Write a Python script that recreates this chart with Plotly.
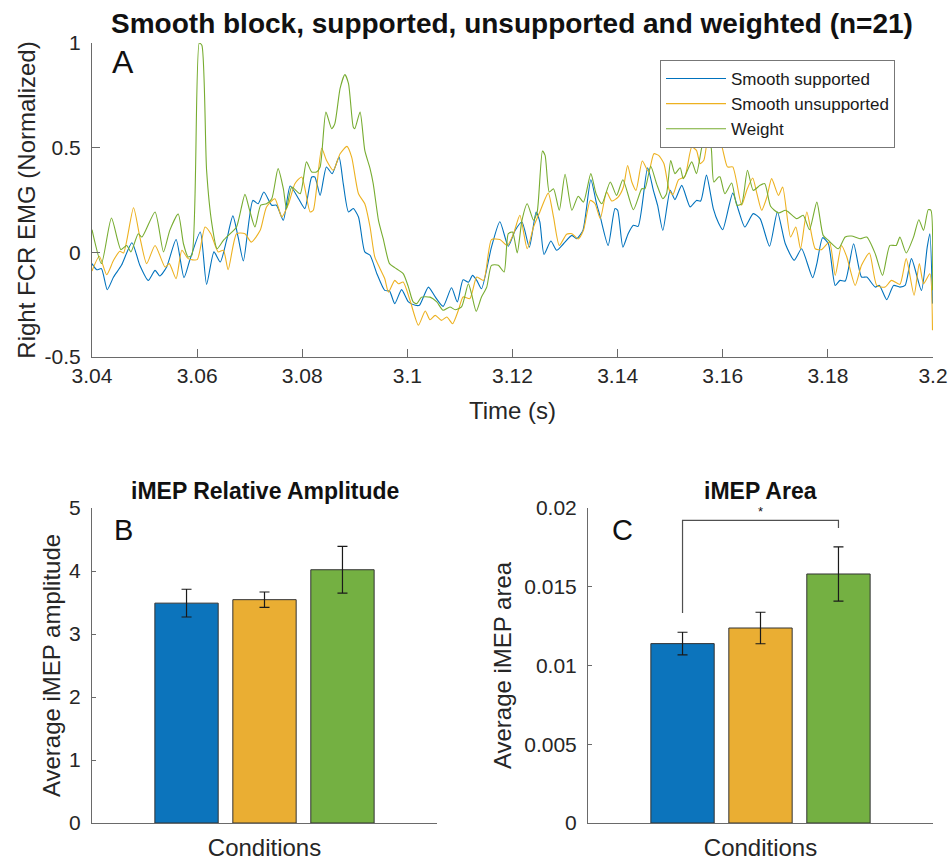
import plotly.graph_objects as go

# ---------------- Panel A data (time in s, normalized EMG) ----------------
t_supported = [3.0400, 3.0409, 3.0418, 3.0429, 3.0441, 3.0456, 3.0476, 3.0491, 3.0507, 3.0520,
               3.0529, 3.0542, 3.0560, 3.0575, 3.0586, 3.0606, 3.0618, 3.0632, 3.0644, 3.0656,
               3.0668, 3.0678, 3.0688, 3.0706, 3.0716, 3.0727, 3.0742, 3.0751, 3.0764, 3.0777,
               3.0793,
               3.0805, 3.0818, 3.0824, 3.0834, 3.0846, 3.0857, 3.0870, 3.0878, 3.0888, 3.0897,
               3.0907, 3.0919, 3.0929, 3.0942, 3.0957, 3.0966, 3.0976, 3.0989, 3.1002, 3.1015,
               3.1023, 3.1040, 3.1053, 3.1068, 3.1084, 3.1095, 3.1106, 3.1116, 3.1124, 3.1132,
               3.1141, 3.1160, 3.1176, 3.1192,
               3.1205, 3.1218, 3.1232, 3.1245, 3.1252, 3.1260, 3.1273, 3.1284, 3.1297, 3.1313,
               3.1322, 3.1334, 3.1349, 3.1360, 3.1367, 3.1382, 3.1395, 3.1400, 3.1410, 3.1420,
               3.1430, 3.1439, 3.1457, 3.1468, 3.1476, 3.1486, 3.1500, 3.1509, 3.1522, 3.1538,
               3.1550, 3.1558, 3.1569, 3.1582, 3.1592,
               3.1600, 3.1619, 3.1630, 3.1642, 3.1658, 3.1671, 3.1689, 3.1704, 3.1719, 3.1736,
               3.1750, 3.1771, 3.1779, 3.1790, 3.1801, 3.1814, 3.1823, 3.1833, 3.1849, 3.1864,
               3.1874, 3.1890, 3.1898, 3.1912, 3.1925, 3.1937, 3.1947, 3.1959, 3.1978, 3.1989,
               3.1994, 3.1999]
v_supported = [-0.054, -0.083, -0.078, -0.178, -0.118, -0.062, 0.046, -0.062, -0.134, -0.086,
               -0.113, -0.070, 0.061, -0.121, -0.038, 0.097, -0.153, 0.002, -0.046, 0.057,
               0.174, 0.073, -0.041, 0.248, 0.232, 0.288, 0.225, 0.225, 0.153, 0.317,
               0.256,
               0.209, 0.360, 0.360, 0.272, 0.408, 0.376, 0.455, 0.328, 0.193, 0.209,
               0.169, 0.002, -0.014, -0.102, -0.182, -0.185, -0.245, -0.178, -0.237, -0.253,
               -0.253, -0.166, -0.213, -0.258, -0.169, -0.237, -0.131, -0.143, -0.110, -0.134,
               -0.174, 0.025, 0.146, 0.029,
               0.105, 0.145, 0.025, 0.193, 0.145, -0.010, 0.054, 0.010, 0.041, 0.081,
               0.065, 0.105, 0.347, 0.232, 0.169, 0.033, 0.209, 0.201, 0.025, 0.089,
               0.129, 0.124, 0.404, 0.296, 0.225, 0.105, 0.296, 0.252, 0.320, 0.217,
               0.248, 0.245, 0.369, 0.209, 0.140,
               0.108, 0.283, 0.201, 0.121, 0.185, 0.161, 0.029, 0.193, 0.041, -0.038,
               0.017, -0.121, -0.054, 0.070, 0.041, -0.158, -0.134, -0.137, 0.041, -0.118,
               -0.118, -0.166, -0.158, -0.226, -0.158, -0.166, -0.158, -0.030, -0.182, 0.025,
               0.089, -0.245]

t_unsupported = [3.0400, 3.0414, 3.0428, 3.0441, 3.0453, 3.0460, 3.0479, 3.0491, 3.0504, 3.0520,
                 3.0539, 3.0547, 3.0560, 3.0571, 3.0583, 3.0600, 3.0615, 3.0626, 3.0640, 3.0650,
                 3.0659, 3.0675, 3.0691, 3.0703, 3.0720, 3.0732, 3.0748, 3.0761, 3.0774, 3.0786,
                 3.0799,
                 3.0815, 3.0821, 3.0837, 3.0846, 3.0859, 3.0872, 3.0885, 3.0894, 3.0907, 3.0919,
                 3.0929, 3.0938, 3.0948, 3.0957, 3.0964, 3.0976, 3.0983, 3.0992, 3.1005, 3.1021,
                 3.1034, 3.1043, 3.1053, 3.1065, 3.1075, 3.1086, 3.1097, 3.1106, 3.1119, 3.1132,
                 3.1145, 3.1160, 3.1176, 3.1190,
                 3.1202, 3.1214, 3.1228, 3.1240, 3.1252, 3.1268, 3.1278, 3.1289, 3.1303, 3.1313,
                 3.1325, 3.1335, 3.1348, 3.1357, 3.1367, 3.1379, 3.1389, 3.1401, 3.1411, 3.1419,
                 3.1427, 3.1435, 3.1447, 3.1459, 3.1469, 3.1478, 3.1488, 3.1498, 3.1505, 3.1516,
                 3.1528, 3.1541, 3.1550, 3.1557, 3.1564, 3.1575, 3.1583, 3.1595,
                 3.1609, 3.1619, 3.1636, 3.1646, 3.1657, 3.1665, 3.1674, 3.1684, 3.1693, 3.1706,
                 3.1714, 3.1729, 3.1739, 3.1748, 3.1760, 3.1776, 3.1788, 3.1803, 3.1814, 3.1826,
                 3.1836, 3.1852, 3.1864, 3.1879, 3.1893, 3.1909, 3.1921, 3.1937, 3.1949, 3.1964,
                 3.1974, 3.1982, 3.1994, 3.1999]
v_unsupported = [-0.089, -0.019, -0.107, -0.038, 0.005, -0.003, 0.213, 0.073, -0.054, 0.033,
                 -0.070, -0.054, -0.126, 0.010, -0.030, -0.035, 0.121, 0.089, 0.002, 0.010,
                 -0.083, 0.089, 0.089, 0.049, 0.105, 0.217, 0.256, 0.169, 0.232, 0.328,
                 0.360,
                 0.193, 0.201, 0.497, 0.440, 0.392, 0.471, 0.506, 0.455, 0.280, 0.232,
                 0.121, -0.022, -0.078, -0.126, -0.190, -0.134, -0.150, -0.142, -0.229, -0.348,
                 -0.280, -0.322, -0.301, -0.325, -0.309, -0.341, -0.277, -0.213, -0.221, -0.118,
                 -0.134, 0.061, 0.061, 0.033,
                 0.089, 0.177, 0.017, 0.121, 0.193, 0.283, 0.169, 0.033, 0.086, 0.089,
                 0.064, 0.105, 0.248, 0.232, 0.161, 0.288, 0.245, 0.264, 0.312, 0.415,
                 0.336, 0.296, 0.436, 0.384, 0.471, 0.463, 0.424, 0.299, 0.275, 0.347,
                 0.363, 0.503, 0.487, 0.424, 0.440, 0.600, 0.520, 0.527,
                 0.408, 0.408, 0.225, 0.299, 0.355, 0.280, 0.201, 0.264, 0.352, 0.272,
                 0.312, 0.073, 0.121, 0.017, 0.193, 0.017, 0.013, 0.049, -0.110, 0.033,
                 -0.022, -0.158, -0.062, -0.003, -0.158, -0.166, -0.134, -0.153, -0.030, -0.205,
                 -0.054, -0.150, -0.102, -0.372]

t_weight = [3.0400, 3.0418, 3.0437, 3.0455, 3.0466, 3.0474, 3.0488, 3.0495, 3.0520, 3.0536,
            3.0548, 3.0564, 3.0574, 3.0583, 3.0590, 3.0604, 3.0609, 3.0618, 3.0628, 3.0638,
            3.0650, 3.0663, 3.0675, 3.0691, 3.0699, 3.0710, 3.0721, 3.0732, 3.0742, 3.0754,
            3.0764, 3.0770, 3.0780,
            3.0796, 3.0808, 3.0818, 3.0827, 3.0834, 3.0845, 3.0856, 3.0862, 3.0872, 3.0881,
            3.0888, 3.0897, 3.0900, 3.0910, 3.0919, 3.0929, 3.0935, 3.0945, 3.0954, 3.0966,
            3.0976, 3.0992, 3.1002, 3.1011, 3.1018, 3.1027, 3.1043, 3.1056, 3.1068, 3.1081,
            3.1091, 3.1103, 3.1116, 3.1122, 3.1131, 3.1141, 3.1151, 3.1160, 3.1173, 3.1184,
            3.1192,
            3.1200, 3.1209, 3.1218, 3.1228, 3.1240, 3.1247, 3.1257, 3.1262, 3.1270, 3.1278,
            3.1289, 3.1300, 3.1313, 3.1325, 3.1335, 3.1349, 3.1359, 3.1370, 3.1386, 3.1398,
            3.1410, 3.1430, 3.1446, 3.1452, 3.1463, 3.1474, 3.1486, 3.1493, 3.1501, 3.1509,
            3.1519, 3.1525, 3.1541, 3.1550, 3.1560, 3.1569, 3.1578, 3.1583, 3.1592,
            3.1595, 3.1604, 3.1617, 3.1627, 3.1636, 3.1647, 3.1658, 3.1671, 3.1680, 3.1691,
            3.1706, 3.1719, 3.1725, 3.1741, 3.1753, 3.1765, 3.1779, 3.1791, 3.1801, 3.1820,
            3.1833, 3.1845, 3.1861, 3.1874, 3.1890, 3.1904, 3.1918, 3.1930, 3.1937, 3.1949,
            3.1963, 3.1973, 3.1982, 3.1991, 3.1996, 3.1999]
v_weight = [0.108, -0.054, 0.164, 0.013, 0.033, 0.002, 0.089, 0.073, 0.193, 0.002,
            0.105, 0.183, 0.041, -0.022, -0.014, 1.000, 0.989, 0.392, 0.137, 0.017,
            0.057, 0.089, 0.121, 0.277, 0.209, 0.121, 0.225, 0.232, 0.256, 0.400,
            0.304, 0.209, 0.312,
            0.280, 0.432, 0.384, 0.384, 0.408, 0.670, 0.591, 0.615, 0.783, 0.849,
            0.806, 0.599, 0.591, 0.670, 0.487, 0.400, 0.328, 0.153, 0.065, -0.054,
            -0.073, -0.102, -0.166, -0.237, -0.245, -0.214, -0.214, -0.237, -0.277, -0.261,
            -0.274, -0.261, -0.150, -0.197, -0.282, -0.213, -0.166, -0.062, -0.062, -0.094,
            0.089,
            0.097, -0.003, 0.153, 0.232, 0.153, 0.193, 0.484, 0.463, 0.288, 0.304,
            0.201, 0.373, 0.201, 0.268, 0.240, 0.376, 0.280, 0.232, 0.336, 0.272,
            0.347, 0.204, 0.304, 0.304, 0.411, 0.328, 0.256, 0.280, 0.439, 0.376,
            0.404, 0.352, 0.432, 0.376, 0.500, 0.580, 0.500, 0.336, 0.360,
            0.360, 0.280, 0.331, 0.225, 0.232, 0.392, 0.296, 0.320, 0.328, 0.220,
            0.188, 0.201, 0.193, 0.161, 0.177, 0.108, 0.240, 0.081, 0.057, 0.017,
            0.073, 0.078, 0.065, 0.073, -0.006, -0.110, 0.033, 0.033, 0.073, -0.003,
            0.073, 0.156, 0.105, 0.204, 0.201, -0.181]

series_names = ["Smooth supported", "Smooth unsupported", "Weight"]
colors = ["#0072BD", "#EDB120", "#77AC30"]
bar_colors = ["#0C74BC", "#EAAE33", "#74B042"]

# ---------------- Panel B / C data ----------------
amp_mean = [3.49, 3.545, 4.02]
amp_err = [0.22, 0.122, 0.372]
area_mean = [0.01139, 0.01238, 0.01581]
area_err = [0.00072, 0.00100, 0.00172]
sig_bar_level = 0.01922
sig_left_end = 0.01333
sig_right_end = 0.01873
sig_star_y = 0.01975

x_ticks_a = [3.04, 3.06, 3.08, 3.10, 3.12, 3.14, 3.16, 3.18, 3.20]
x_tick_text_a = ["3.04", "3.06", "3.08", "3.1", "3.12", "3.14", "3.16", "3.18", "3.2"]
y_ticks_a = [-0.5, 0, 0.5, 1]
y_tick_text_a = ["-0.5", "0", "0.5", "1"]
y_ticks_c = [0, 0.005, 0.01, 0.015, 0.02]
y_tick_text_c = ["0", "0.005", "0.01", "0.015", "0.02"]

W, H = 948, 861
FONT = "Liberation Sans, Arial, Helvetica, sans-serif"
TXT = "#262626"
AX = "#6a6a6a"


def px_x(p):
    return p / W


def px_y(p):
    return 1 - p / H


fig = go.Figure()

for t, v, name, c in zip([t_supported, t_unsupported, t_weight],
                         [v_supported, v_unsupported, v_weight], series_names, colors):
    fig.add_trace(go.Scatter(x=t, y=v, mode="lines", name=name,
                             line=dict(color=c, width=1.1, shape="spline", smoothing=0.6),
                             xaxis="x", yaxis="y"))

bargap = 0.322
bargroupgap = 0.188
offset_step = (1 - bargap) / 3

for i in range(3):
    fig.add_trace(go.Bar(x=["Conditions"], y=[amp_mean[i]], name=series_names[i],
                         marker=dict(color=bar_colors[i], line=dict(color="#333333", width=1)),
                         error_y=dict(type="data", array=[amp_err[i]], color="#1a1a1a",
                                      thickness=1.2, width=5),
                         showlegend=False, xaxis="x2", yaxis="y2", offsetgroup=str(i)))
    fig.add_trace(go.Bar(x=["Conditions"], y=[area_mean[i]], name=series_names[i],
                         marker=dict(color=bar_colors[i], line=dict(color="#333333", width=1)),
                         error_y=dict(type="data", array=[area_err[i]], color="#1a1a1a",
                                      thickness=1.2, width=5),
                         showlegend=False, xaxis="x3", yaxis="y3", offsetgroup=str(i)))

# significance bracket between first and third bar in panel C
left_x = -offset_step
right_x = offset_step
fig.add_shape(type="path", xref="x3", yref="y3",
              path=f"M {left_x},{sig_left_end} L {left_x},{sig_bar_level} "
                   f"L {right_x},{sig_bar_level} L {right_x},{sig_right_end}",
              line=dict(color="#505050", width=1.2))

axis_common = dict(showline=True, linecolor=AX, linewidth=1, mirror=False, showgrid=False,
                   zeroline=False, tickcolor=AX, tickwidth=1, automargin=False,
                   tickfont=dict(family=FONT, size=21, color=TXT))
title_font = dict(family=FONT, size=24, color=TXT)

fig.update_layout(
    width=W, height=H,
    margin=dict(l=0, r=0, t=0, b=0, autoexpand=False),
    paper_bgcolor="white", plot_bgcolor="white",
    font=dict(family=FONT, color=TXT),
    barmode="group", bargap=bargap, bargroupgap=bargroupgap,
    title=dict(text="Smooth block, supported, unsupported and weighted (n=21)",
               font=dict(family=FONT, size=28, color="#111111", weight="bold"),
               x=px_x(512), xanchor="center", y=px_y(23), yanchor="middle",
               automargin=False),
    xaxis=dict(domain=[px_x(92), px_x(933)], anchor="y", range=[3.04, 3.2],
               tickvals=x_ticks_a, ticktext=x_tick_text_a, ticks="inside", ticklen=8,
               title=dict(text="Time (s)", font=title_font, standoff=15), **axis_common),
    yaxis=dict(domain=[px_y(357), px_y(43)], anchor="x", range=[-0.5, 1],
               tickvals=y_ticks_a, ticktext=y_tick_text_a, ticks="inside", ticklen=8,
               ticklabelstandoff=6,
               title=dict(text="Right FCR EMG (Normalized)", font=title_font, standoff=2),
               **axis_common),
    xaxis2=dict(domain=[px_x(92), px_x(437)], anchor="y2", range=[-0.5, 0.5],
                type="category", showticklabels=False, ticks="",
                title=dict(text="Conditions", font=title_font, standoff=16),
                **axis_common),
    yaxis2=dict(domain=[px_y(823), px_y(508)], anchor="x2", range=[0, 5], dtick=1,
                ticks="inside", ticklen=4, ticklabelstandoff=6,
                title=dict(text="Average iMEP amplitude", font=title_font, standoff=1),
                **axis_common),
    xaxis3=dict(domain=[px_x(588), px_x(933)], anchor="y3", range=[-0.5, 0.5],
                type="category", showticklabels=False, ticks="",
                title=dict(text="Conditions", font=title_font, standoff=16),
                **axis_common),
    yaxis3=dict(domain=[px_y(823), px_y(508)], anchor="x3", range=[0, 0.02],
                tickvals=y_ticks_c, ticktext=y_tick_text_c, ticks="inside", ticklen=4,
                ticklabelstandoff=6,
                title=dict(text="Average iMEP area", font=title_font, standoff=5),
                **axis_common),
    legend=dict(x=px_x(660), y=px_y(60), xanchor="left", yanchor="top",
                bgcolor="white", bordercolor="#777777", borderwidth=1,
                font=dict(family=FONT, size=17, color="#1a1a1a"),
                tracegroupgap=0, itemwidth=60),
)

ann = [
    dict(text="A", x=px_x(123), y=px_y(62), font=dict(size=32)),
    dict(text="B", x=px_x(123), y=px_y(530), font=dict(size=29)),
    dict(text="C", x=px_x(622), y=px_y(530), font=dict(size=29)),
    dict(text="<b>iMEP Relative Amplitude</b>", x=px_x(264.5), y=px_y(491),
         font=dict(size=23, color="#111111")),
    dict(text="<b>iMEP Area</b>", x=px_x(760.5), y=px_y(491),
         font=dict(size=23, color="#111111")),
]
for a in ann:
    f = dict(family=FONT, color="#111111")
    f.update(a.pop("font"))
    fig.add_annotation(xref="paper", yref="paper", xanchor="center", yanchor="middle",
                       showarrow=False, font=f, **a)

fig.add_annotation(xref="x3", yref="y3", x=0, y=sig_star_y, text="*", showarrow=False,
                   xanchor="center", yanchor="middle",
                   font=dict(family=FONT, size=13, color="#111111"))

fig.write_html("out.html")
